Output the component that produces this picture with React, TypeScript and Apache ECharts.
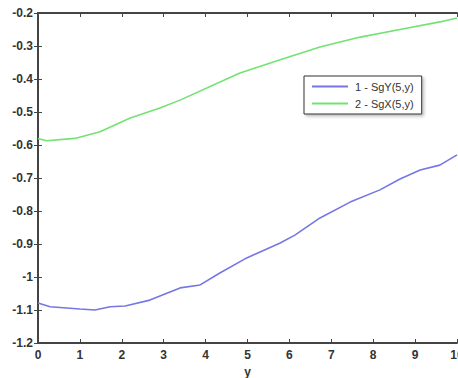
import React, { useEffect, useRef } from "react";
import * as echarts from "echarts";

const xTicks = [0, 1, 2, 3, 4, 5, 6, 7, 8, 9, 10];
const sgYx = [0, 0.29, 1.0, 1.36, 1.72, 2.08, 2.67, 3.39, 3.87, 4.34, 4.94, 5.78, 6.13, 6.73, 7.45, 8.16, 8.64, 9.12, 9.59, 10];
const sgYv = [-1.079, -1.09, -1.097, -1.1, -1.09, -1.088, -1.07, -1.033, -1.024, -0.988, -0.945, -0.897, -0.873, -0.821, -0.773, -0.736, -0.703, -0.676, -0.661, -0.63];
const sgXx = [0, 0.2, 0.88, 1.48, 2.2, 2.91, 3.39, 4.82, 5.78, 6.73, 7.69, 8.64, 9.59, 10];
const sgXv = [-0.58, -0.587, -0.58, -0.56, -0.518, -0.488, -0.464, -0.382, -0.342, -0.303, -0.273, -0.25, -0.227, -0.215];
const seriesNames = ["1 - SgY(5,y)", "2 - SgX(5,y)"];

export default function App() {
  const ref = useRef<HTMLDivElement>(null);
  useEffect(() => {
    if (!ref.current) return;
    const chart = echarts.init(ref.current, null, { renderer: "svg" });
    const axisColor = "#444";
    const labelStyle = { color: "#333", fontSize: 12, fontWeight: "bold" as const, fontFamily: "Liberation Sans, Arial, sans-serif" };
    const fmtY = (v: number) => String(parseFloat(v.toFixed(1)));
    chart.setOption({
      animation: false,
      backgroundColor: "#fff",
      grid: { left: 38, right: 1, top: 13, bottom: 35, containLabel: false, outerBoundsMode: "none" },
      xAxis: [
        {
          type: "value", min: 0, max: 10, interval: 1, position: "bottom",
          name: "y", nameLocation: "middle", nameGap: 20,
          nameTextStyle: { ...labelStyle },
          axisLine: { lineStyle: { color: axisColor, width: 2 } },
          axisTick: { inside: true, length: 4, lineStyle: { color: axisColor } },
          axisLabel: { ...labelStyle, margin: 6, showMaxLabel: true, hideOverlap: false, formatter: (v: number) => String(xTicks.includes(v) ? v : v) },
          splitLine: { show: false },
        },
        {
          type: "value", min: 0, max: 10, interval: 1, position: "top",
          axisLine: { lineStyle: { color: axisColor, width: 2 } },
          axisTick: { inside: true, length: 4, lineStyle: { color: axisColor } },
          axisLabel: { show: false },
          splitLine: { show: false },
        },
      ],
      yAxis: [
        {
          type: "value", min: -1.2, max: -0.2, interval: 0.1, position: "left",
          axisLine: { show: true, lineStyle: { color: axisColor, width: 2 } },
          axisTick: { show: true, inside: true, length: 4, lineStyle: { color: axisColor } },
          axisLabel: { ...labelStyle, margin: 5, formatter: fmtY },
          splitLine: { show: false },
        },
        {
          type: "value", min: -1.2, max: -0.2, interval: 0.1, position: "right",
          axisLine: { show: true, lineStyle: { color: axisColor, width: 2 } },
          axisTick: { show: true, inside: true, length: 4, lineStyle: { color: axisColor } },
          axisLabel: { show: false },
          splitLine: { show: false },
        },
      ],
      legend: {
        left: 304, top: 76, orient: "vertical",
        data: seriesNames.map((n) => ({ name: n, icon: "rect" })),
        itemWidth: 36, itemHeight: 2, itemGap: 6,
        padding: [5, 8, 5, 8],
        borderColor: "#333", borderWidth: 1, backgroundColor: "#fff",
        shadowColor: "rgba(0,0,0,0.25)", shadowBlur: 3, shadowOffsetX: 2, shadowOffsetY: 2,
        textStyle: { color: "#333", fontSize: 11, fontFamily: "Liberation Sans, Arial, sans-serif", padding: [0, 0, 0, 2] },
      },
      series: [
        {
          name: seriesNames[0], type: "line", showSymbol: false,
          data: sgYx.map((x, i) => [x, sgYv[i]]),
          lineStyle: { color: "#7676e4", width: 1.6 }, itemStyle: { color: "#7676e4" },
        },
        {
          name: seriesNames[1], type: "line", showSymbol: false,
          data: sgXx.map((x, i) => [x, sgXv[i]]),
          lineStyle: { color: "#72e272", width: 1.6 }, itemStyle: { color: "#72e272" },
        },
      ],
    });
    return () => chart.dispose();
  }, []);
  return <div ref={ref} style={{ position: "absolute", left: 0, top: 0, width: 458, height: 378 }} />;
}
